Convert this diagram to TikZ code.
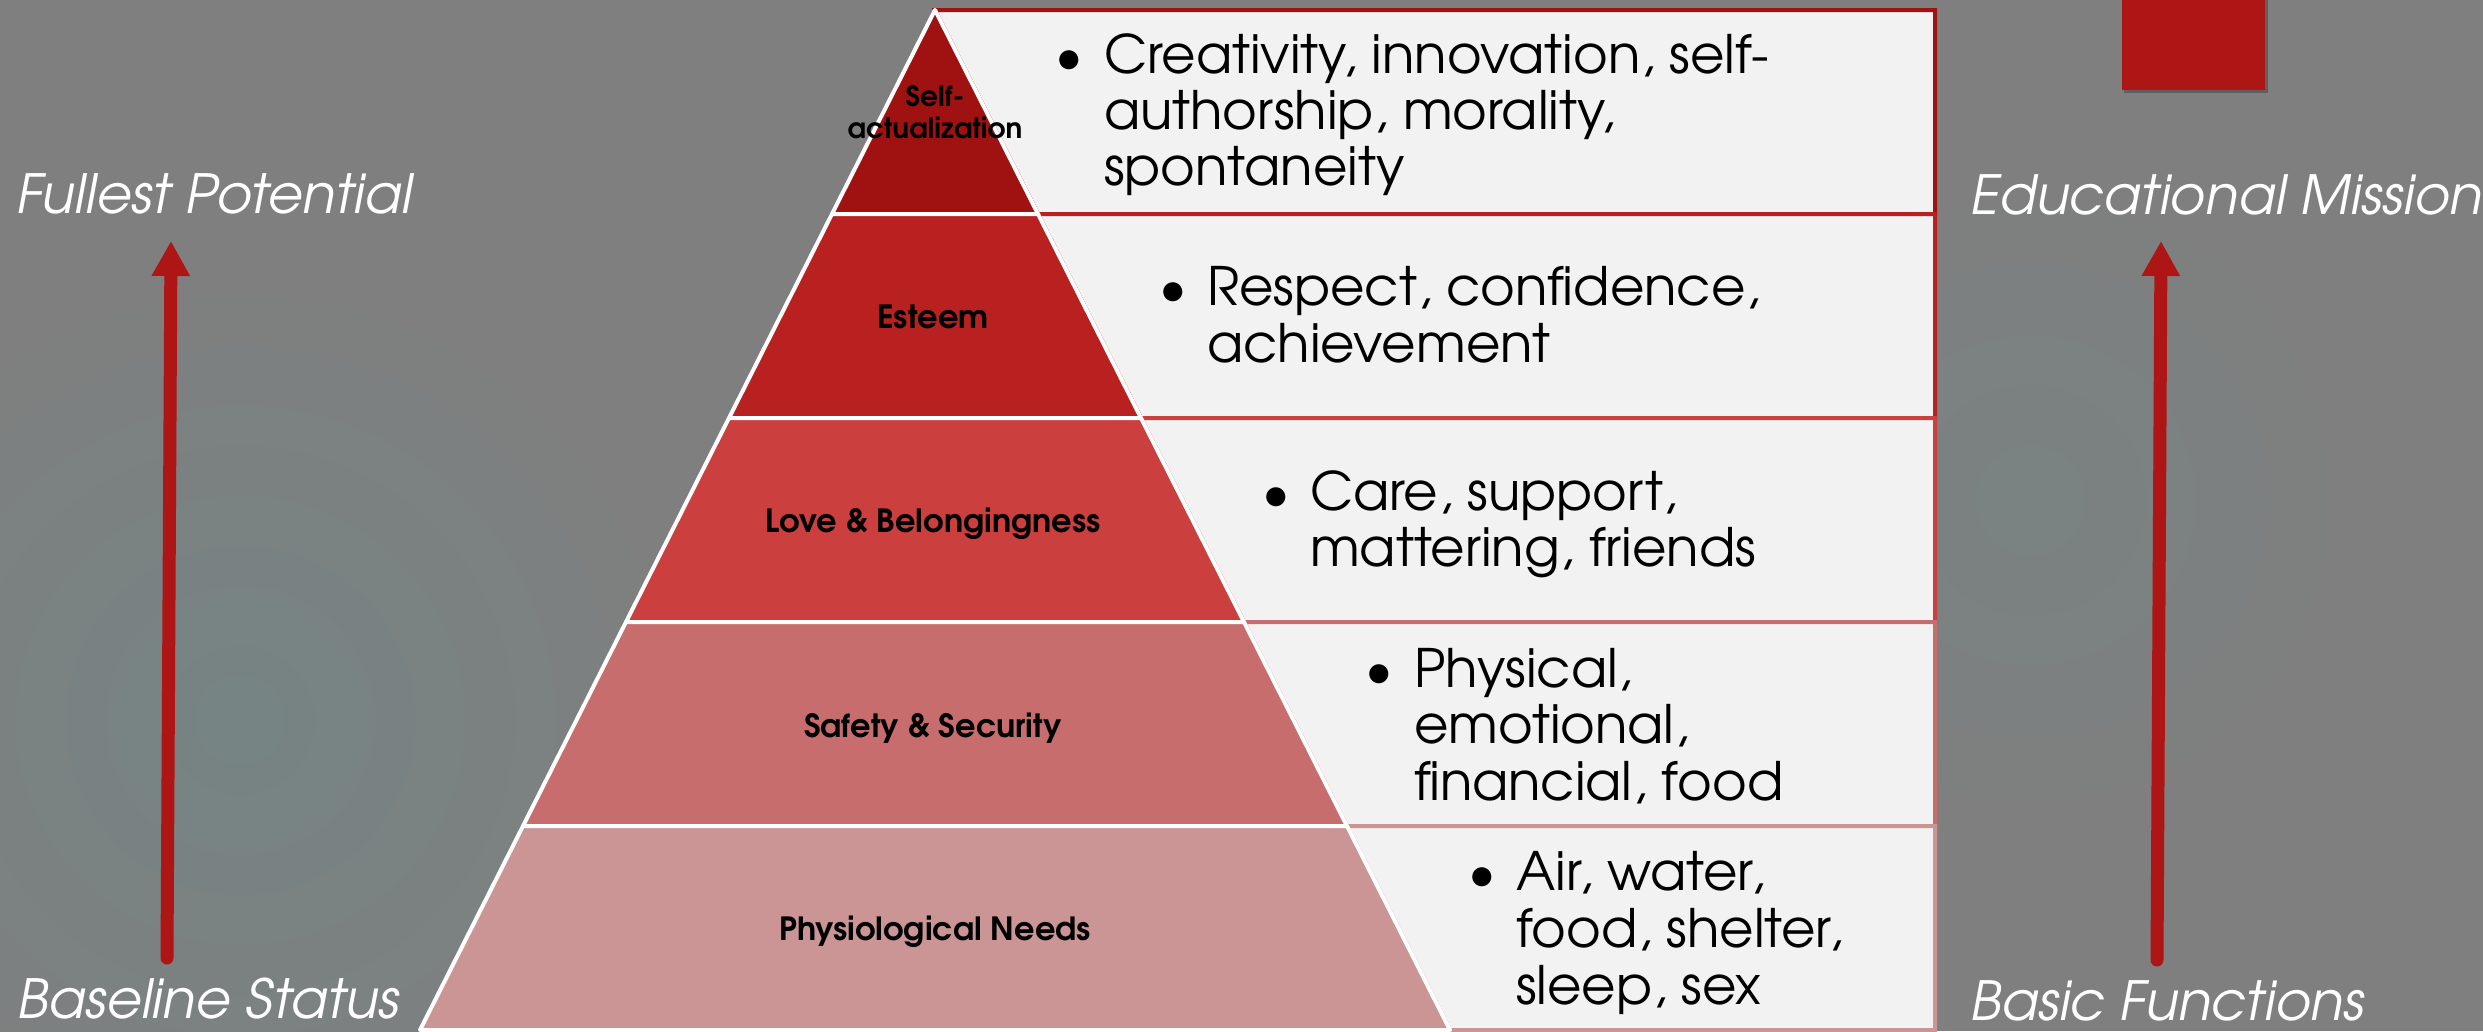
\documentclass[tikz,border=0pt]{standalone}
\usepackage{fontspec}
\setmainfont{texgyreadventor}[Extension=.otf, UprightFont=*-regular, BoldFont=*-bold, ItalicFont=*-italic, BoldItalicFont=*-bolditalic]
\usetikzlibrary{arrows.meta}
\definecolor{bg}{HTML}{7F7F7F}
\definecolor{bgteal}{HTML}{768484}
\definecolor{lvA}{HTML}{A01212}
\definecolor{lvB}{HTML}{B92121}
\definecolor{lvC}{HTML}{CC3F3F}
\definecolor{lvD}{HTML}{C76D6D}
\definecolor{lvE}{HTML}{CB9595}
\definecolor{boxfill}{HTML}{F2F2F2}
\definecolor{arrowred}{HTML}{AE1515}
\tikzset{
  sidelabel/.style={font=\fontsize{54}{60}\selectfont\itshape, text=white, anchor=base west, inner sep=0},
  lvllabel/.style={font=\fontsize{32}{36}\selectfont\bfseries, text=black, anchor=base, inner sep=0},
  toplabel/.style={font=\fontsize{28}{32}\selectfont\bfseries, text=black, anchor=base, inner sep=0},
  itemtext/.style={font=\fontsize{53}{56}\selectfont, text=black, anchor=base west, inner sep=0},
  bulletmark/.style={font=\fontsize{53}{56}\selectfont, text=black, anchor=base, inner sep=0},
  piece/.style={draw=white, line width=4, line join=round},
  rowbox/.style={fill=boxfill, line width=4, line join=miter},
  uparrow/.style={draw=arrowred, line width=13, line cap=round, -{Triangle[width=36pt, length=35pt]}}
}
\begin{document}
\begin{tikzpicture}[x=1pt, y=-1pt]
\useasboundingbox (0,0) rectangle (2483,1031);
% background
\fill[bg] (0,0) rectangle (2483,1031);
\shade[inner color=bgteal, outer color=bg] (240,720) circle (450);
\shade[inner color=bgteal!60!bg, outer color=bg] (2030,500) circle (330);
% red square
\fill[black, opacity=0.25] (2124,0) rectangle (2268,93);
\fill[arrowred] (2122,0) rectangle (2265,90);
% row boxes
\draw[rowbox, draw=lvA] (935,10) -- (1935,10) -- (1935,214) -- (1038,214) -- cycle;
\draw[rowbox, draw=lvB] (1038,214) -- (1935,214) -- (1935,418) -- (1141,418) -- cycle;
\draw[rowbox, draw=lvC] (1141,418) -- (1935,418) -- (1935,622) -- (1244,622) -- cycle;
\draw[rowbox, draw=lvD] (1244,622) -- (1935,622) -- (1935,826) -- (1347,826) -- cycle;
\draw[rowbox, draw=lvE] (1347,826) -- (1935,826) -- (1935,1030) -- (1450,1030) -- cycle;
% pyramid pieces
\filldraw[piece, fill=lvA] (935,10) -- (1038,214) -- (832,214) -- cycle;
\filldraw[piece, fill=lvB] (832,214) -- (1038,214) -- (1141,418) -- (729,418) -- cycle;
\filldraw[piece, fill=lvC] (729,418) -- (1141,418) -- (1244,622) -- (626,622) -- cycle;
\filldraw[piece, fill=lvD] (626,622) -- (1244,622) -- (1347,826) -- (523,826) -- cycle;
\filldraw[piece, fill=lvE] (523,826) -- (1347,826) -- (1450,1030) -- (420,1030) -- cycle;
% level labels
\node[toplabel] (l1a) at (935,106) {Self-};
\node[toplabel] (l1b) at (935,138) {actualization};
\node[lvllabel] (l2) at (933,328) {Esteem};
\node[lvllabel] (l3) at (933,532) {Love \& Belongingness};
\node[lvllabel] (l4) at (933,737) {Safety \& Security};
\node[lvllabel] (l5) at (935,940) {Physiological Needs};
% row texts
\node[bulletmark] (b1) at (1069,73) {•};
\node[itemtext] (t1a) at (1104,73) {Creativity, innovation, self-};
\node[itemtext] (t1b) at (1104,129) {authorship, morality,};
\node[itemtext] (t1c) at (1104,185) {spontaneity};
\node[bulletmark] (b2) at (1173,305) {•};
\node[itemtext] (t2a) at (1207,305) {Respect, confidence,};
\node[itemtext] (t2b) at (1207,362) {achievement};
\node[bulletmark] (b3) at (1276,510) {•};
\node[itemtext] (t3a) at (1310,510) {Care, support,};
\node[itemtext] (t3b) at (1310,566) {mattering, friends};
\node[bulletmark] (b4) at (1379,687) {•};
\node[itemtext] (t4a) at (1414,687) {Physical,};
\node[itemtext] (t4b) at (1414,743) {emotional,};
\node[itemtext] (t4c) at (1414,800) {financial, food};
\node[bulletmark] (b5) at (1482,890) {•};
\node[itemtext] (t5a) at (1516,890) {Air, water,};
\node[itemtext] (t5b) at (1516,947) {food, shelter,};
\node[itemtext] (t5c) at (1516,1004) {sleep, sex};
% side labels
\node[sidelabel] (fp) at (16,213) {Fullest Potential};
\node[sidelabel] (bs) at (17,1018) {Baseline Status};
\node[sidelabel] (em) at (1970,214) {Educational Mission};
\node[sidelabel] (bf) at (1970,1020) {Basic Functions};
% arrows
\coordinate (la-bot) at (167,958);
\coordinate (la-tip) at (171,241);
\coordinate (ra-bot) at (2157,960);
\coordinate (ra-tip) at (2161,241);
\draw[uparrow] (la-bot) -- (la-tip);
\draw[uparrow] (ra-bot) -- (ra-tip);
\end{tikzpicture}
\end{document}
